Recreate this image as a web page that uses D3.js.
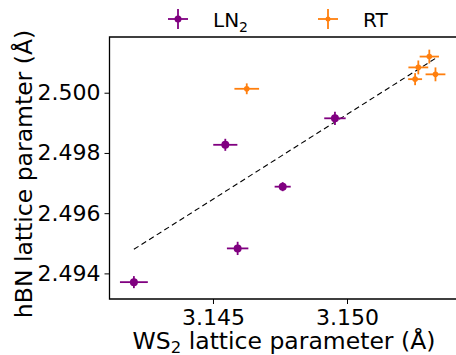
<!DOCTYPE html>
<html><head><meta charset="utf-8">
<script src="https://cdn.jsdelivr.net/npm/d3@7"></script>
<style>body{margin:0;background:#fff}svg{display:block;font-family:"DejaVu Sans",sans-serif}</style>
</head><body><svg id="c" width="456" height="355"></svg>
<script>
// LN2 data
const ln2X = [3.14205, 3.14546, 3.14592, 3.14760, 3.14955];
const ln2Y = [2.49371, 2.49827, 2.49483, 2.49688, 2.49915];
const ln2Xerr = [0.00052, 0.00045, 0.00040, 0.00030, 0.00040];
const ln2Yerr = [0.00020, 0.00020, 0.00022, 0.00015, 0.00022];
// RT data
const rtX = [3.14626, 3.15307, 3.15266, 3.15330, 3.15254];
const rtY = [2.50013, 2.50120, 2.50084, 2.50061, 2.50045];
const rtXerr = [0.00046, 0.00036, 0.00037, 0.00037, 0.00026];
const rtYerr = [0.00018, 0.00023, 0.00023, 0.00023, 0.00020];
// linear fit endpoints
const fitX = [3.14205, 3.15330];
const fitY = [2.49480, 2.50114];
const xTicks = [3.145, 3.150];
const yTicks = [2.494, 2.496, 2.498, 2.500];

const svg = d3.select("#c");
const L = 109.5, T = 37, W = 356, H = 262;
const x = d3.scaleLinear().domain([3.14114, 3.15442]).range([L, L + W]);
const y = d3.scaleLinear().domain([2.49315, 2.50185]).range([T + H, T]);
const purple = "#800080", orange = "#ff7f0e";
const fsTick = 22, fsLab = 23.5;

// dashed fit
svg.append("path")
  .attr("d", d3.line().x(d => x(d[0])).y(d => y(d[1]))(fitX.map((v, i) => [v, fitY[i]])))
  .attr("stroke", "#000").attr("stroke-width", 1.1).attr("stroke-dasharray", "5.5,3.5").attr("fill", "none");

function series(xs, ys, xe, ye, col, r) {
  const g = svg.append("g");
  xs.forEach((xv, i) => {
    g.append("line").attr("x1", x(xv - xe[i])).attr("x2", x(xv + xe[i]))
      .attr("y1", y(ys[i])).attr("y2", y(ys[i])).attr("stroke", col).attr("stroke-width", 1.8);
    g.append("line").attr("x1", x(xv)).attr("x2", x(xv))
      .attr("y1", y(ys[i] - ye[i])).attr("y2", y(ys[i] + ye[i])).attr("stroke", col).attr("stroke-width", 1.8);
    g.append("circle").attr("cx", x(xv)).attr("cy", y(ys[i])).attr("r", r).attr("fill", col);
  });
}
series(ln2X, ln2Y, ln2Xerr, ln2Yerr, purple, 4);
series(rtX, rtY, rtXerr, rtYerr, orange, 2.8);

// spines
svg.append("path").attr("d", `M${L + W + 5},${T}H${L}V${T + H}H${L + W + 5}`)
  .attr("fill", "none").attr("stroke", "#000").attr("stroke-width", 1.3);

// axes
const xa = svg.append("g").attr("transform", `translate(0,${T + H})`)
  .call(d3.axisBottom(x).tickValues(xTicks).tickFormat(d3.format(".3f")).tickSize(5).tickPadding(5));
const ya = svg.append("g").attr("transform", `translate(${L},0)`)
  .call(d3.axisLeft(y).tickValues(yTicks).tickFormat(d3.format(".3f")).tickSize(5).tickPadding(4));
[xa, ya].forEach(a => {
  a.select(".domain").remove();
  a.selectAll("line").attr("stroke", "#000").attr("stroke-width", 1);
  a.selectAll("text").attr("font-size", fsTick).attr("fill", "#000").attr("font-family", "DejaVu Sans");
});

// axis labels
const xl = svg.append("text").attr("x", 284).attr("y", 349).attr("text-anchor", "middle")
  .attr("font-size", fsLab).attr("fill", "#000");
xl.append("tspan").text("WS");
xl.append("tspan").text("2").attr("font-size", fsLab * 0.7).attr("dy", 4);
xl.append("tspan").text(" lattice parameter (Å)").attr("dy", -4);

svg.append("text").attr("transform", "translate(32,174) rotate(-90)").attr("text-anchor", "middle")
  .attr("font-size", fsLab).attr("fill", "#000").text("hBN lattice paramter (Å)");

// legend
function legItem(cx, label, sub, col, r) {
  const cy = 19;
  svg.append("line").attr("x1", cx - 10).attr("x2", cx + 10).attr("y1", cy).attr("y2", cy).attr("stroke", col).attr("stroke-width", 1.8);
  svg.append("line").attr("x1", cx).attr("x2", cx).attr("y1", cy - 10).attr("y2", cy + 10).attr("stroke", col).attr("stroke-width", 1.8);
  svg.append("circle").attr("cx", cx).attr("cy", cy).attr("r", r).attr("fill", col);
  const t = svg.append("text").attr("x", cx + 35).attr("y", cy + 8).attr("font-size", 20).attr("fill", "#000");
  t.append("tspan").text(label);
  if (sub) t.append("tspan").text(sub).attr("font-size", 14).attr("dy", 5);
}
legItem(178, "LN", "2", purple, 3.5);
legItem(328, "RT", null, orange, 2.5);
</script></body></html>
